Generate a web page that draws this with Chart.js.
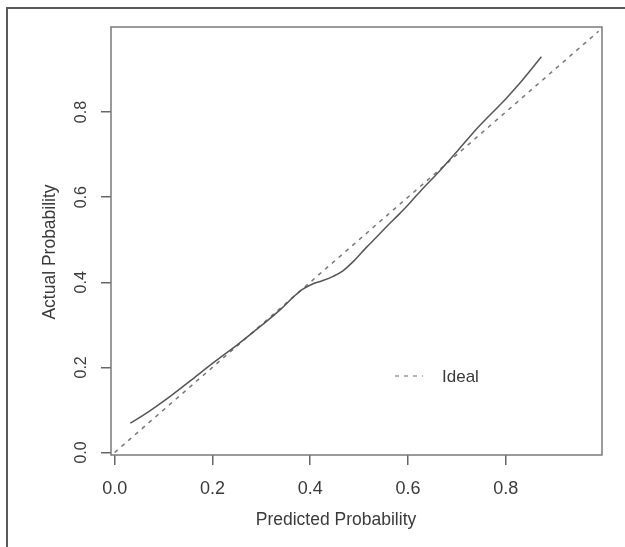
<!DOCTYPE html>
<html>
<head>
<meta charset="utf-8">
<script src="https://cdn.jsdelivr.net/npm/chart.js@4.4.1/dist/chart.umd.min.js"></script>
<style>
  html, body { margin: 0; padding: 0; background: #fff; }
  canvas { display: block; }
</style>
</head>
<body>
<canvas id="calibration" width="625" height="547"></canvas>
<script>
// calibration curve (smoothed) and the ideal diagonal
const predicted = [0.032, 0.058, 0.115, 0.160, 0.202, 0.254, 0.303, 0.340, 0.368, 0.385, 0.405,
                   0.426, 0.447, 0.467, 0.491, 0.515, 0.535, 0.560, 0.581, 0.602, 0.630, 0.662,
                   0.703, 0.744, 0.800, 0.826, 0.873];
const actual = [0.069, 0.087, 0.133, 0.173, 0.211, 0.256, 0.301, 0.337, 0.368, 0.384, 0.396,
                0.404, 0.414, 0.427, 0.452, 0.482, 0.505, 0.535, 0.559, 0.584, 0.620, 0.658,
                0.711, 0.765, 0.831, 0.864, 0.930];
const idealX = [0.0, 0.99];
const idealY = [0.0, 0.99];
const xTicks = [0.0, 0.2, 0.4, 0.6, 0.8];
const yTicks = [0.0, 0.2, 0.4, 0.6, 0.8];
const xTitle = 'Predicted Probability';
const yTitle = 'Actual Probability';

const FONT = "'Liberation Sans', Arial, sans-serif";
const TEXT = '#3a3a3a';

function toPoints(xs, ys) {
  return xs.map((x, i) => ({ x: x, y: ys[i] }));
}

// white page, outer frame, plot box, axis titles, rotated y labels and the legend
const decorations = {
  id: 'decorations',
  beforeDraw(chart) {
    const ctx = chart.ctx;
    ctx.save();
    ctx.fillStyle = '#fff';
    ctx.fillRect(0, 0, chart.width, chart.height);
    ctx.restore();
  },
  afterDraw(chart) {
    const ctx = chart.ctx;
    const area = chart.chartArea;
    const yScale = chart.scales.y;

    ctx.save();
    // outer frame (only top and left edges are visible)
    ctx.strokeStyle = '#5a5a5a';
    ctx.lineWidth = 2;
    ctx.beginPath();
    ctx.moveTo(7, chart.height);
    ctx.lineTo(7, 8);
    ctx.lineTo(chart.width, 8);
    ctx.stroke();

    // plot box
    ctx.strokeStyle = '#7a7a7a';
    ctx.lineWidth = 1.5;
    ctx.strokeRect(area.left, area.top, area.right - area.left, area.bottom - area.top);

    ctx.fillStyle = TEXT;
    ctx.textAlign = 'center';
    ctx.textBaseline = 'middle';

    // y tick labels, read bottom to top
    ctx.font = '16px ' + FONT;
    yTicks.forEach(v => {
      const py = yScale.getPixelForValue(v);
      ctx.save();
      ctx.translate(82, py);
      ctx.rotate(-Math.PI / 2);
      ctx.fillText(v.toFixed(1), 0, 0);
      ctx.restore();
    });

    // axis titles
    ctx.font = '17.5px ' + FONT;
    ctx.fillText(xTitle, 336, 520);
    ctx.save();
    ctx.translate(50, 252);
    ctx.rotate(-Math.PI / 2);
    ctx.fillText(yTitle, 0, 0);
    ctx.restore();

    // legend for the dashed line
    const ds = chart.data.datasets[1];
    const ly = 376;
    ctx.strokeStyle = '#9a9a9a';
    ctx.lineWidth = 1.5;
    ctx.setLineDash(ds.borderDash);
    ctx.beginPath();
    ctx.moveTo(395, ly);
    ctx.lineTo(423, ly);
    ctx.stroke();
    ctx.setLineDash([]);
    ctx.font = '17px ' + FONT;
    ctx.textAlign = 'left';
    ctx.fillText(ds.label, 442, ly + 1);
    ctx.restore();
  }
};

new Chart(document.getElementById('calibration'), {
  type: 'scatter',
  data: {
    datasets: [{
      label: 'Calibration',
      data: toPoints(predicted, actual),
      showLine: true,
      borderColor: '#555',
      borderWidth: 1.5,
      pointRadius: 0,
      cubicInterpolationMode: 'monotone',
      clip: false
    }, {
      label: 'Ideal',
      data: toPoints(idealX, idealY),
      showLine: true,
      borderColor: '#777',
      borderWidth: 1.5,
      borderDash: [4, 5],
      pointRadius: 0
    }]
  },
  options: {
    responsive: false,
    animation: false,
    layout: { padding: { top: 27, right: 23, left: 0, bottom: 0 } },
    plugins: {
      legend: { display: false },
      tooltip: { enabled: false }
    },
    scales: {
      x: {
        type: 'linear',
        min: -0.0075,
        max: 0.997,
        afterBuildTicks: s => { s.ticks = xTicks.map(v => ({ value: v })); },
        afterFit: s => { s.height = 92; },
        border: { display: false },
        grid: { drawOnChartArea: false, drawTicks: true, tickLength: 10, color: '#666', lineWidth: 1.5 },
        ticks: {
          color: TEXT,
          font: { family: FONT, size: 18 },
          padding: 13,
          maxRotation: 0,
          callback: v => Number(v).toFixed(1)
        }
      },
      y: {
        type: 'linear',
        min: -0.006,
        max: 1.0,
        afterBuildTicks: s => { s.ticks = yTicks.map(v => ({ value: v })); },
        afterFit: s => { s.width = 111; },
        border: { display: false },
        grid: { drawOnChartArea: false, drawTicks: true, tickLength: 10, color: '#666', lineWidth: 1.5 },
        ticks: { display: false }
      }
    }
  },
  plugins: [decorations]
});
</script>
</body>
</html>
